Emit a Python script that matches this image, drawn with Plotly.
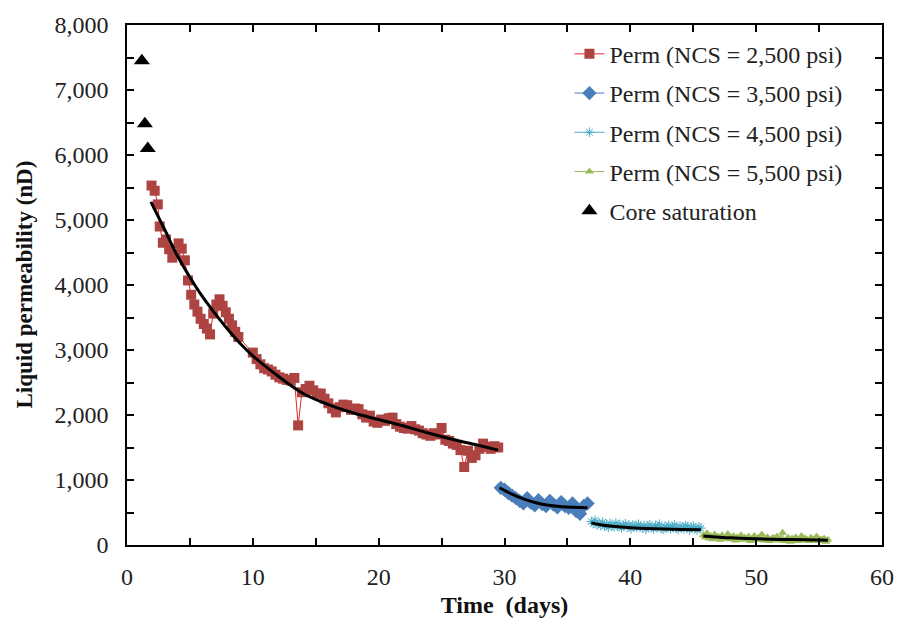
import plotly.graph_objects as go

# ---------------- data ----------------
core_t = [1.18, 1.42, 1.65]
core_k = [7450, 6480, 6100]

red_t = [1.95, 2.2, 2.45, 2.6, 2.85, 3.1, 3.35, 3.6, 3.85, 4.1, 4.35, 4.6, 4.85, 5.1, 5.35, 5.6,
         5.85, 6.1, 6.35, 6.6, 6.85, 7.1, 7.35, 7.6, 7.85, 8.1, 8.35, 8.6, 8.85, 10.0, 10.3, 10.6,
         10.9, 11.2, 11.5, 11.8, 12.1, 12.4, 12.7, 13.0, 13.3, 13.6, 13.9, 14.2, 14.5, 14.8, 15.1,
         15.4, 15.7, 16.0, 16.3, 16.6, 16.9, 17.2, 17.5, 17.8, 18.1, 18.4, 18.7, 19.0, 19.3, 19.6,
         19.9, 20.2, 20.5, 20.8, 21.1, 21.4, 21.7, 22.0, 22.3, 22.6, 22.9, 23.2, 23.5, 23.8, 24.1,
         24.4, 24.7, 25.0, 25.3, 25.6, 25.9, 26.2, 26.5, 26.8, 27.1, 27.4, 27.7, 28.0, 28.3, 28.6,
         28.9, 29.2, 29.5]
red_k = [5530, 5450, 5240, 4900, 4650, 4700, 4550, 4420, 4480, 4640, 4560, 4380, 4070, 3850, 3700, 3590,
         3480, 3400, 3330, 3240, 3560, 3700, 3780, 3680, 3580, 3480, 3380, 3280, 3200, 2960, 2860, 2780,
         2720, 2700, 2670, 2620, 2580, 2560, 2540, 2530, 2570, 1840, 2350, 2400, 2450, 2380, 2330,
         2330, 2250, 2180, 2100, 2040, 2120, 2160, 2150, 2080, 2100, 2090, 2010, 1960, 1990, 1900,
         1880, 1930, 1910, 1950, 1960, 1860, 1820, 1800, 1790, 1830, 1780, 1760, 1720, 1700, 1680,
         1720, 1700, 1800, 1620, 1600, 1560, 1540, 1460, 1200, 1450, 1340, 1380, 1480, 1560, 1510,
         1480, 1520, 1500]

blue_t = [29.7, 30.0, 30.3, 30.6, 30.9, 31.2, 31.5, 31.8, 32.1, 32.4, 32.7, 33.0, 33.3, 33.6, 33.9,
          34.2, 34.5, 34.8, 35.1, 35.4, 35.7, 36.0, 36.3, 36.6]
blue_k = [880, 850, 800, 760, 720, 680, 640, 720, 650, 610, 690, 630, 600, 680, 620,
          580, 660, 600, 570, 640, 520, 480, 600, 640]

cyan_t = [36.9, 37.05, 37.2, 37.35, 37.5, 37.65, 37.8, 37.95, 38.1, 38.25, 38.4, 38.55, 38.7, 38.85,
          39.0, 39.15, 39.3, 39.45, 39.6, 39.75, 39.9, 40.05, 40.2, 40.35, 40.5, 40.65, 40.8, 40.95,
          41.1, 41.25, 41.4, 41.55, 41.7, 41.85, 42.0, 42.15, 42.3, 42.45, 42.6, 42.75, 42.9, 43.05,
          43.2, 43.35, 43.5, 43.65, 43.8, 43.95, 44.1, 44.25, 44.4, 44.55, 44.7, 44.85, 45.0, 45.15,
          45.3, 45.45, 45.6]
cyan_k = [360, 330, 380, 310, 340, 300, 350, 290, 320, 270, 330, 300, 280, 340, 290, 310, 260, 300,
          330, 280, 300, 250, 310, 290, 270, 320, 280, 260, 300, 240, 290, 310, 270, 250, 300, 280,
          320, 260, 240, 290, 270, 300, 250, 280, 310, 260, 240, 290, 270, 250, 300, 280, 230, 270,
          290, 250, 230, 280, 260]

green_t = [45.8, 45.95, 46.1, 46.25, 46.4, 46.55, 46.7, 46.85, 47.0, 47.15, 47.3, 47.45, 47.6, 47.75,
           47.9, 48.05, 48.2, 48.35, 48.5, 48.65, 48.8, 48.95, 49.1, 49.25, 49.4, 49.55, 49.7, 49.85,
           50.0, 50.15, 50.3, 50.45, 50.6, 50.75, 50.9, 51.05, 51.2, 51.35, 51.5, 51.65, 51.8, 51.95,
           52.1, 52.25, 52.4, 52.55, 52.7, 52.85, 53.0, 53.15, 53.3, 53.45, 53.6, 53.75, 53.9, 54.05,
           54.2, 54.35, 54.5, 54.65, 54.8, 54.95, 55.1, 55.25, 55.4, 55.55, 55.7]
green_k = [150, 120, 180, 100, 140, 90, 160, 110, 130, 80, 150, 100, 120, 170, 90, 110, 140, 70, 120,
           100, 150, 80, 110, 90, 130, 60, 100, 140, 80, 110, 90, 160, 70, 100, 120, 60, 90, 110, 80,
           130, 70, 100, 190, 60, 90, 110, 50, 100, 80, 120, 60, 90, 140, 70, 100, 80, 60, 110, 90,
           70, 130, 60, 90, 80, 100, 50, 80]

# trend lines
fit_red_t = [1.9, 3, 4, 5, 6, 7, 8, 9, 10, 12, 14, 16, 18, 20, 22, 24, 26, 28, 29.5]
fit_red_k = [5280, 4850, 4450, 4120, 3820, 3560, 3320, 3100, 2910, 2600, 2330, 2160, 2030, 1930,
             1830, 1720, 1620, 1530, 1460]
fit_blue_t = [29.6, 30.5, 31.5, 32.5, 33.5, 34.5, 35.5, 36.6]
fit_blue_k = [880, 790, 710, 650, 610, 590, 580, 575]
fit_cyan_t = [36.9, 38, 39, 40, 42, 44, 45.6]
fit_cyan_k = [340, 300, 280, 265, 250, 240, 235]
fit_green_t = [45.8, 48, 50, 52, 54, 55.7]
fit_green_k = [140, 110, 95, 85, 80, 75]

labels = ["Perm (NCS = 2,500 psi)", "Perm (NCS = 3,500 psi)", "Perm (NCS = 4,500 psi)",
          "Perm (NCS = 5,500 psi)", "Core saturation"]

FONT = "Liberation Serif"

fig = go.Figure()

fig.add_trace(go.Scatter(x=red_t, y=red_k, mode="lines+markers", name=labels[0], legendgroup="a",
                         line=dict(color="#E02828", width=1),
                         marker=dict(symbol="square", size=10, color="#AD4441")))
fig.add_trace(go.Scatter(x=blue_t, y=blue_k, mode="lines+markers", name=labels[1], legendgroup="b",
                         line=dict(color="#4A7EBB", width=1),
                         marker=dict(symbol="diamond", size=11, color="#4A7EBB")))
fig.add_trace(go.Scatter(x=cyan_t, y=cyan_k, mode="lines+markers", name=labels[2], legendgroup="c",
                         line=dict(color="#4BACC6", width=1),
                         marker=dict(symbol="asterisk-open", size=8, color="#4BACC6",
                                     line=dict(color="#4BACC6", width=1))))
fig.add_trace(go.Scatter(x=green_t, y=green_k, mode="lines+markers", name=labels[3], legendgroup="d",
                         line=dict(color="#9BBB59", width=1),
                         marker=dict(symbol="triangle-up", size=8, color="#9BBB59")))
fig.add_trace(go.Scatter(x=core_t, y=core_k, mode="markers", name=labels[4], legendgroup="e",
                         marker=dict(symbol="triangle-up", size=14, color="black")))

for ft, fk in [(fit_red_t, fit_red_k), (fit_blue_t, fit_blue_k),
               (fit_cyan_t, fit_cyan_k), (fit_green_t, fit_green_k)]:
    fig.add_trace(go.Scatter(x=ft, y=fk, mode="lines", showlegend=False, hoverinfo="skip",
                             line=dict(color="black", width=3, shape="spline")))

axis_common = dict(showline=True, linecolor="black", linewidth=1.5, mirror="ticks",
                   ticks="inside", ticklen=7, tickwidth=1.5, tickcolor="black",
                   showgrid=False, zeroline=False,
                   tickfont=dict(family=FONT, size=24, color="#222"))

fig.update_xaxes(range=[0, 60], dtick=10, tick0=0,
                 minor=dict(dtick=5, ticks="inside", ticklen=7, tickwidth=1.5, tickcolor="black"),
                 ticklabelstandoff=9,
                 title=dict(text="<b>Time  (days)</b>", font=dict(family=FONT, size=24, color="#111"),
                            standoff=8),
                 **axis_common)
fig.update_yaxes(range=[0, 8000], dtick=1000, tick0=0, tickformat=",",
                 minor=dict(dtick=500, ticks="inside", ticklen=7, tickwidth=1.5, tickcolor="black"),
                 ticklabelstandoff=12,
                 **axis_common)

fig.add_annotation(text="<b>Liquid permeability (nD)</b>", textangle=-90,
                   xref="paper", yref="paper", x=(23 - 127) / 759, y=0.5,
                   xanchor="center", yanchor="middle", showarrow=False,
                   font=dict(family=FONT, size=23, color="#111"))

fig.update_layout(
    width=906, height=626,
    margin=dict(l=127, r=20, t=18, b=80),
    plot_bgcolor="white", paper_bgcolor="white",
    font=dict(family=FONT, color="#222"),
    legend=dict(x=0.586, y=0.987, xanchor="left", yanchor="top",
                font=dict(family=FONT, size=24, color="#222"),
                bgcolor="rgba(255,255,255,0)", tracegroupgap=5, itemwidth=30),
    showlegend=True,
)

fig.write_html("out.html")
